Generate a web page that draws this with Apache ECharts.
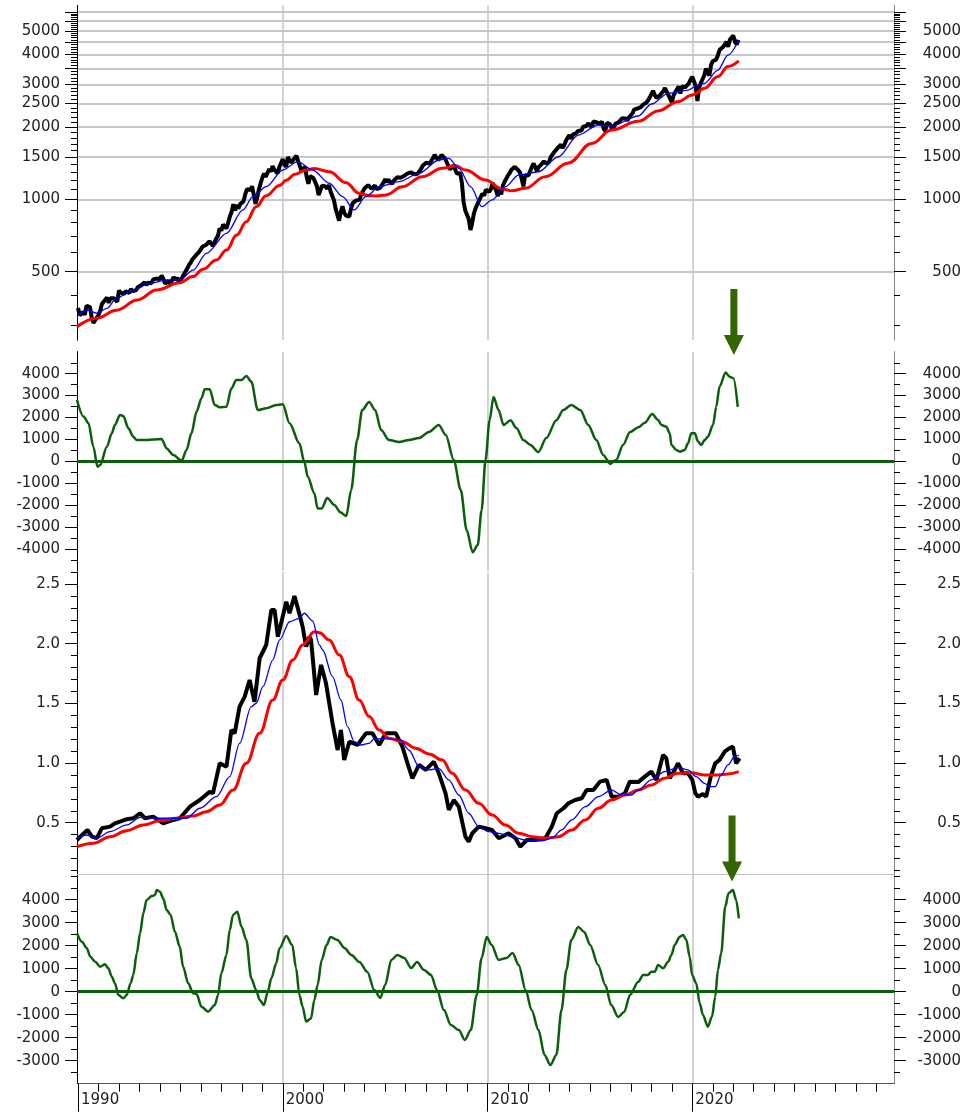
<!DOCTYPE html>
<html>
<head>
<meta charset="utf-8">
<script src="https://cdn.jsdelivr.net/npm/echarts@6.0.0/dist/echarts.min.js"></script>
<style>
html, body { margin: 0; padding: 0; background: #fff; }
#chart { width: 964px; height: 1112px; }
</style>
</head>
<body>
<div id="chart"></div>
<script>
// monthly closes, first value = Dec 1989, one value per month after that
var spxStart = 1990.0;
var spxClose = [353,
	329, 332, 340, 331, 361, 358, 356, 323, 306, 304, 322, 330,
	344, 367, 375, 375, 390, 371, 388, 395, 388, 392, 375, 417,
	409, 413, 404, 415, 415, 408, 424, 414, 418, 419, 431, 436,
	439, 443, 452, 440, 450, 451, 448, 464, 459, 468, 462, 466,
	482, 467, 446, 451, 457, 444, 458, 475, 463, 472, 454, 459,
	471, 487, 501, 515, 533, 545, 562, 562, 584, 582, 605, 616,
	636, 640, 646, 654, 669, 671, 640, 652, 687, 705, 757, 741,
	786, 791, 757, 801, 848, 885, 954, 899, 947, 915, 955, 970,
	980, 1049, 1102, 1112, 1091, 1134, 1121, 957, 1017, 1099, 1164, 1229,
	1280, 1238, 1286, 1335, 1302, 1373, 1329, 1320, 1283, 1363, 1389, 1469,
	1394, 1366, 1499, 1452, 1421, 1455, 1431, 1518, 1437, 1429, 1315, 1320,
	1366, 1240, 1160, 1249, 1256, 1224, 1211, 1134, 1041, 1060, 1139, 1148,
	1130, 1107, 1147, 1077, 1067, 990, 912, 916, 815, 886, 936, 880,
	856, 841, 848, 917, 964, 975, 990, 1008, 996, 1051, 1058, 1112,
	1131, 1145, 1126, 1107, 1121, 1141, 1102, 1104, 1115, 1130, 1174, 1212,
	1181, 1204, 1181, 1157, 1192, 1191, 1234, 1220, 1229, 1207, 1249, 1248,
	1280, 1281, 1295, 1311, 1270, 1270, 1277, 1304, 1336, 1378, 1401, 1418,
	1438, 1407, 1421, 1482, 1531, 1503, 1455, 1474, 1527, 1549, 1481, 1468,
	1379, 1331, 1323, 1386, 1400, 1280, 1267, 1283, 1166, 969, 896, 903,
	826, 745, 798, 873, 919, 919, 987, 1021, 1057, 1036, 1096, 1115,
	1074, 1104, 1169, 1187, 1089, 1031, 1102, 1049, 1141, 1183, 1181, 1258,
	1286, 1327, 1326, 1364, 1345, 1321, 1292, 1219, 1131, 1253, 1247, 1258,
	1312, 1366, 1408, 1398, 1310, 1362, 1379, 1407, 1441, 1412, 1416, 1426,
	1498, 1515, 1569, 1598, 1631, 1606, 1686, 1633, 1682, 1757, 1806, 1848,
	1783, 1859, 1872, 1884, 1924, 1960, 1931, 2003, 1972, 2018, 2068, 2059,
	1995, 2105, 2068, 2086, 2107, 2063, 2104, 1972, 1920, 2079, 2080, 2044,
	1940, 1932, 2060, 2065, 2097, 2099, 2174, 2171, 2168, 2126, 2199, 2239,
	2279, 2364, 2363, 2384, 2412, 2423, 2470, 2472, 2519, 2575, 2648, 2674,
	2824, 2714, 2641, 2648, 2705, 2718, 2816, 2902, 2914, 2712, 2760, 2530,
	2704, 2784, 2834, 2946, 2752, 2942, 2980, 2926, 2977, 3038, 3141, 3231,
	3226, 2954, 2560, 2912, 3044, 3100, 3271, 3500, 3363, 3270, 3622, 3756,
	3714, 3811, 3973, 4181, 4204, 4298, 4395, 4523, 4308, 4605, 4567, 4800,
	4516, 4400, 4600
];
var spxFast = [
	[1989.95, 326], [1990.43, 346], [1990.92, 336], [1991.41, 352], [1991.88, 388],
	[1992.7, 420], [1993.51, 447], [1994.33, 462], [1994.97, 462], [1995.62, 508],
	[1996.27, 596], [1997.25, 722], [1998.05, 903], [1998.54, 1025], [1999.19, 1128],
	[2000.0, 1324], [2000.73, 1433], [2001.46, 1324], [2002.27, 1166], [2002.92, 1025],
	[2003.49, 903], [2004.06, 1025], [2004.71, 1128], [2005.68, 1184], [2006.65, 1282],
	[2007.62, 1457], [2008.11, 1480], [2008.6, 1345], [2009.17, 1128], [2009.73, 932],
	[2010.22, 994], [2010.87, 1128], [2011.52, 1262], [2012.49, 1302], [2013.46, 1503],
	[2014.43, 1850], [2015.41, 2037], [2016.06, 2016], [2017.36, 2220], [2018.0, 2490],
	[2018.82, 2759], [2019.79, 2846], [2020.28, 2986], [2020.6, 3036], [2021.25, 3444],
	[2021.74, 3976], [2022.27, 4598]
];
var spxSlow = [
	[1989.95, 295], [1990.9, 320], [1991.88, 346], [1992.9, 381], [1993.84, 420],
	[1994.97, 450], [1995.6, 477], [1996.11, 512], [1996.76, 559], [1997.25, 615],
	[1997.75, 710], [1998.22, 807], [1998.7, 932], [1999.19, 1035], [1999.84, 1140],
	[2000.17, 1200], [2000.6, 1270], [2001.14, 1325], [2001.54, 1342], [2002.27, 1302],
	[2003.09, 1172], [2003.73, 1059], [2004.2, 1035], [2004.55, 1032], [2005.03, 1042],
	[2005.84, 1128], [2006.81, 1242], [2007.79, 1345], [2008.44, 1379], [2008.92, 1324],
	[2009.9, 1203], [2010.71, 1104], [2011.19, 1085], [2011.84, 1111], [2012.82, 1242],
	[2013.95, 1416], [2015.09, 1708], [2016.06, 1941], [2017.36, 2110], [2018.33, 2331],
	[2019.3, 2545], [2020.0, 2713], [2020.6, 2893], [2021.25, 3237], [2021.74, 3564],
	[2022.27, 3760]
];
var spxOsc = [
	[1989.95, 2800], [1990.27, 2040], [1990.51, 1740], [1990.75, 670], [1990.95, -250],
	[1991.08, -170], [1991.41, 670], [1991.65, 1280], [1991.8, 1660], [1992.05, 2110],
	[1992.21, 2070], [1992.46, 1510], [1992.7, 1120], [1992.87, 970], [1993.35, 970],
	[1993.67, 1000], [1994.08, 1020], [1994.33, 590], [1994.65, 290], [1995.06, 30],
	[1995.3, 520], [1995.54, 1280], [1995.79, 2270], [1996.03, 2880], [1996.19, 3290],
	[1996.43, 3290], [1996.68, 2570], [1996.92, 2470], [1997.25, 2490], [1997.49, 3330],
	[1997.73, 3710], [1997.98, 3710], [1998.22, 3900], [1998.46, 3640], [1998.78, 2340],
	[1999.19, 2420], [1999.68, 2570], [2000.0, 2600], [2000.33, 1740], [2000.81, 820],
	[2001.05, -20], [2001.22, -700], [2001.54, -1460], [2001.7, -2150], [2001.9, -2150],
	[2002.17, -1680], [2002.52, -2000], [2002.81, -2330], [2003.1, -2500], [2003.34, -1310],
	[2003.63, 970], [2003.88, 2340], [2004.22, 2710], [2004.51, 2340], [2004.8, 1430],
	[2005.19, 970], [2005.68, 880], [2006.16, 970], [2006.65, 1060], [2007.14, 1340],
	[2007.62, 1660], [2007.96, 1200], [2008.35, 60], [2008.69, -1310], [2008.98, -3140],
	[2009.27, -4150], [2009.52, -3820], [2009.71, -2230], [2009.9, 60], [2010.1, 1880],
	[2010.29, 2940], [2010.54, 2340], [2010.78, 1660], [2011.12, 1880], [2011.41, 1520],
	[2011.75, 970], [2012.09, 750], [2012.48, 420], [2012.87, 1060], [2013.36, 1880],
	[2013.7, 2340], [2014.09, 2570], [2014.53, 2340], [2014.92, 1660], [2015.31, 970],
	[2015.65, 290], [2015.99, -120], [2016.28, 60], [2016.62, 750], [2016.96, 1340],
	[2017.36, 1550], [2017.68, 1760], [2018.04, 2160], [2018.33, 1890], [2018.49, 1660],
	[2018.73, 1580], [2018.9, 1280], [2018.98, 740], [2019.22, 520], [2019.39, 440],
	[2019.63, 520], [2019.79, 820], [2019.95, 1280], [2020.12, 1280], [2020.28, 900],
	[2020.44, 740], [2020.6, 970], [2020.76, 1120], [2021.01, 1660], [2021.17, 2490],
	[2021.33, 3410], [2021.63, 4060], [2021.82, 3860], [2022.01, 3790], [2022.22, 2490]
];
var ratioClose = [
	[1989.95, 0.355], [1990.11, 0.383], [1990.46, 0.439], [1990.68, 0.383], [1990.92, 0.37],
	[1991.16, 0.453], [1991.56, 0.467], [1991.8, 0.495], [1992.05, 0.509], [1992.38, 0.529],
	[1992.7, 0.537], [1993.03, 0.579], [1993.27, 0.537], [1993.67, 0.551], [1994.16, 0.495],
	[1994.65, 0.523], [1994.97, 0.537], [1995.46, 0.634], [1995.95, 0.69], [1996.43, 0.76],
	[1996.59, 0.746], [1996.92, 0.998], [1997.25, 0.969], [1997.49, 1.277], [1997.65, 1.249],
	[1997.89, 1.472], [1998.14, 1.556], [1998.38, 1.696], [1998.62, 1.514], [1998.87, 1.878],
	[1999.19, 1.989], [1999.44, 2.282], [1999.6, 2.282], [1999.76, 2.059], [2000.17, 2.352],
	[2000.33, 2.255], [2000.57, 2.4], [2000.81, 2.25], [2000.97, 2.142], [2001.14, 1.975],
	[2001.3, 2.059], [2001.38, 2.031], [2001.63, 1.57], [2001.87, 1.822], [2002.11, 1.668],
	[2002.43, 1.333], [2002.68, 1.109], [2002.84, 1.277], [2003.0, 1.026], [2003.25, 1.179],
	[2003.65, 1.151], [2004.06, 1.249], [2004.38, 1.249], [2004.71, 1.151], [2005.03, 1.249],
	[2005.52, 1.249], [2005.84, 1.137], [2006.09, 0.998], [2006.33, 0.872], [2006.65, 0.984],
	[2006.98, 0.942], [2007.38, 1.011], [2007.62, 0.914], [2007.95, 0.746], [2008.11, 0.607],
	[2008.35, 0.69], [2008.6, 0.634], [2008.92, 0.383], [2009.08, 0.341], [2009.25, 0.411],
	[2009.57, 0.467], [2009.9, 0.453], [2010.22, 0.439], [2010.55, 0.37], [2011.03, 0.411],
	[2011.36, 0.37], [2011.6, 0.299], [2011.92, 0.355], [2012.33, 0.355], [2012.82, 0.37],
	[2013.14, 0.467], [2013.38, 0.579], [2013.71, 0.621], [2013.95, 0.663], [2014.28, 0.69],
	[2014.6, 0.705], [2014.84, 0.774], [2015.17, 0.774], [2015.49, 0.844], [2015.82, 0.858],
	[2016.06, 0.718], [2016.38, 0.718], [2016.71, 0.746], [2016.95, 0.844], [2017.36, 0.84],
	[2017.68, 0.886], [2018.0, 0.928], [2018.25, 0.858], [2018.57, 1.067], [2018.73, 1.04],
	[2018.9, 0.872], [2019.14, 0.942], [2019.3, 0.998], [2019.55, 0.914], [2019.79, 0.914],
	[2020.0, 0.858], [2020.15, 0.746], [2020.28, 0.718], [2020.52, 0.741], [2020.68, 0.718],
	[2020.9, 0.886], [2021.12, 0.998], [2021.33, 1.026], [2021.58, 1.095], [2021.82, 1.124],
	[2021.98, 1.137], [2022.14, 0.998], [2022.31, 1.04]
];
var ratioFast = [
	[1989.95, 0.37], [1990.43, 0.397], [1990.92, 0.37], [1991.56, 0.425], [1992.38, 0.481],
	[1993.03, 0.545], [1993.84, 0.537], [1994.65, 0.537], [1995.3, 0.537], [1995.95, 0.621],
	[1996.76, 0.718], [1997.41, 0.886], [1997.89, 1.165], [1998.46, 1.472], [1998.7, 1.501],
	[1999.03, 1.64], [1999.51, 1.863], [1999.84, 2.031], [2000.33, 2.184], [2000.81, 2.213],
	[2001.05, 2.255], [2001.46, 2.19], [2001.79, 1.989], [2001.95, 1.947], [2002.43, 1.724],
	[2002.84, 1.528], [2003.16, 1.305], [2003.49, 1.179], [2003.81, 1.151], [2004.22, 1.165],
	[2004.46, 1.202], [2005.19, 1.202], [2005.76, 1.193], [2006.16, 1.109], [2006.65, 0.969],
	[2007.14, 0.942], [2007.62, 0.956], [2008.11, 0.858], [2008.6, 0.732], [2009.08, 0.579],
	[2009.57, 0.467], [2010.06, 0.425], [2010.55, 0.411], [2011.19, 0.383], [2011.84, 0.355],
	[2012.65, 0.347], [2013.14, 0.37], [2013.62, 0.439], [2014.11, 0.523], [2014.77, 0.634],
	[2015.41, 0.718], [2016.06, 0.774], [2016.54, 0.732], [2017.03, 0.732], [2017.36, 0.774],
	[2018.0, 0.858], [2018.65, 0.928], [2019.3, 0.964], [2019.79, 0.942], [2020.19, 0.886],
	[2020.6, 0.83], [2020.85, 0.802], [2021.12, 0.802], [2021.41, 0.9], [2021.74, 0.984],
	[2022.06, 1.053], [2022.27, 1.067]
];
var ratioSlow = [
	[1989.95, 0.299], [1990.75, 0.328], [1991.56, 0.383], [1992.38, 0.433], [1993.19, 0.481],
	[1994.0, 0.517], [1994.81, 0.537], [1995.62, 0.556], [1996.27, 0.592], [1996.92, 0.648],
	[1997.57, 0.774], [1998.22, 0.998], [1998.87, 1.249], [1999.51, 1.528], [2000.0, 1.696],
	[2000.49, 1.863], [2000.97, 1.989], [2001.54, 2.1], [2001.79, 2.092], [2002.27, 2.031],
	[2002.76, 1.905], [2003.25, 1.724], [2003.73, 1.528], [2004.22, 1.389], [2004.71, 1.277],
	[2005.19, 1.207], [2005.84, 1.179], [2006.49, 1.124], [2007.14, 1.076], [2007.79, 1.026],
	[2008.27, 0.914], [2008.92, 0.774], [2009.57, 0.663], [2010.22, 0.565], [2010.87, 0.481],
	[2011.52, 0.411], [2012.17, 0.383], [2012.82, 0.37], [2013.46, 0.383], [2014.11, 0.439],
	[2014.77, 0.523], [2015.41, 0.621], [2016.06, 0.69], [2016.71, 0.732], [2017.36, 0.774],
	[2018.0, 0.816], [2018.65, 0.872], [2019.3, 0.914], [2019.95, 0.919], [2020.6, 0.9],
	[2021.25, 0.9], [2021.74, 0.908], [2022.27, 0.928]
];
var ratioOsc = [
	[1989.95, 2540], [1990.19, 2170], [1990.43, 1890], [1990.6, 1520], [1990.84, 1300],
	[1991.08, 1090], [1991.32, 1190], [1991.48, 1020], [1991.65, 650], [1991.8, 370],
	[1991.97, -140], [1992.21, -290], [1992.38, -140], [1992.57, 370], [1992.7, 730],
	[1992.87, 1670], [1993.03, 2540], [1993.19, 3410], [1993.35, 3990], [1993.6, 4160],
	[1993.76, 4200], [1993.84, 4420], [1994.0, 4350], [1994.16, 4060], [1994.33, 3550],
	[1994.52, 3340], [1994.73, 2610], [1994.97, 1960], [1995.13, 1090], [1995.38, 370],
	[1995.62, -70], [1995.79, -100], [1996.03, -650], [1996.35, -870], [1996.68, -580],
	[1996.84, -140], [1997.0, 800], [1997.25, 1600], [1997.41, 2680], [1997.57, 3340],
	[1997.78, 3480], [1997.98, 2830], [1998.22, 2250], [1998.46, 580], [1998.7, 70],
	[1998.87, -360], [1999.08, -580], [1999.27, 0], [1999.44, 580], [1999.68, 1240],
	[1999.84, 1890], [2000.17, 2420], [2000.46, 2030], [2000.65, 1020], [2000.81, -140],
	[2000.97, -650], [2001.14, -1300], [2001.38, -1160], [2001.54, -360], [2001.7, 290],
	[2001.9, 1380], [2002.14, 2030], [2002.33, 2380], [2002.67, 2250], [2003.01, 1900],
	[2003.35, 1600], [2003.74, 1290], [2004.13, 860], [2004.47, 70], [2004.76, -270],
	[2005.0, 290], [2005.3, 1380], [2005.59, 1600], [2005.93, 1470], [2006.27, 1030],
	[2006.56, 1290], [2006.9, 940], [2007.24, 730], [2007.53, 70], [2007.87, -800],
	[2008.21, -1450], [2008.6, -1670], [2008.89, -2100], [2009.18, -1670], [2009.47, -140],
	[2009.71, 1470], [2009.96, 2380], [2010.2, 2030], [2010.54, 1380], [2010.93, 1470],
	[2011.22, 1680], [2011.52, 1160], [2011.86, 70], [2012.15, -800], [2012.49, -1670],
	[2012.78, -2750], [2013.07, -3190], [2013.36, -2750], [2013.61, -800], [2013.85, 940],
	[2014.09, 2250], [2014.43, 2810], [2014.72, 2600], [2015.01, 2030], [2015.4, 1160],
	[2015.75, 290], [2016.04, -580], [2016.38, -1100], [2016.67, -880], [2016.96, -140],
	[2017.36, 430], [2017.6, 730], [2017.84, 730], [2018.0, 870], [2018.17, 870],
	[2018.33, 1160], [2018.57, 1020], [2018.82, 1300], [2018.98, 1600], [2019.14, 2030],
	[2019.39, 2390], [2019.55, 2470], [2019.71, 2250], [2019.87, 1520], [2019.99, 730],
	[2020.19, 370], [2020.36, -500], [2020.52, -1010], [2020.76, -1520], [2020.96, -1090],
	[2021.12, -220], [2021.25, 940], [2021.41, 1670], [2021.61, 3700], [2021.77, 4280],
	[2021.98, 4420], [2022.14, 3990], [2022.27, 3190]
];
// signal arrows
var arrowTop = [2022.03, 309];
var arrowBottom = [2021.94, 0.284];

// tick labels
var priceLabels = [500, 1000, 1500, 2000, 2500, 3000, 4000, 5000];
var priceGrid = [500, 1000, 1500, 2000, 2500, 3000, 3500, 4000, 4500, 5000, 5500, 6000];
var osc1Labels = [-4000, -3000, -2000, -1000, 0, 1000, 2000, 3000, 4000];
var ratioLabels = [0.5, 1.0, 1.5, 2.0, 2.5];
var osc2Labels = [-3000, -2000, -1000, 0, 1000, 2000, 3000, 4000];
var yearLabels = [1990, 2000, 2010, 2020];

var GREEN = '#0b5e0b';
var ARROW = '#336600';
var FONT = 'DejaVu Sans';

function minorList(from, to, step, skip) {
	var out = [];
	for (var v = from; v <= to + 1e-9; v += step) {
		var r = Math.round(v * 100) / 100;
		if (skip.indexOf(r) < 0) out.push(r);
	}
	return out;
}

var yAxes = [];
// major + minor axes on both sides of one grid, returns index of the left major axis
function addY(grid, type, min, max, major, minor, labels, fmt, gridLines) {
	var first = yAxes.length;
	['left', 'right'].forEach(function (side) {
		var base = {gridIndex: grid, type: type, min: min, max: max, position: side};
		if (type === 'log') base.logBase = 10;
		var line = {show: true, onZero: false, lineStyle: {color: side === 'left' ? '#000' : '#888', width: 1}};
		yAxes.push(Object.assign({}, base, {
			axisLine: line,
			axisTick: {show: true, length: 12, customValues: major, lineStyle: {color: '#000', width: 1}},
			axisLabel: {
				show: true, customValues: labels, formatter: fmt,
				margin: side === 'left' ? 17 : 67, align: 'right',
				fontFamily: FONT, fontSize: 15, color: '#222'
			},
			splitLine: {show: side === 'left' && gridLines, lineStyle: {color: '#c8c8c8', width: 2}}
		}));
		yAxes.push(Object.assign({}, base, {
			axisLine: line,
			axisTick: {show: true, length: 6, customValues: minor, lineStyle: {color: '#000', width: 1}},
			axisLabel: {show: false},
			splitLine: {show: false}
		}));
	});
	return first;
}

var intFmt = function (v) { return String(Math.round(v)); };
var decFmt = function (v) { return v.toFixed(1); };

var yPrice = addY(0, 'log', 260, 6400, priceGrid,
	minorList(300, 6000, 100, priceGrid), priceLabels, intFmt, true);
var yOsc1 = addY(1, 'value', -5000, 5000, osc1Labels,
	minorList(-4500, 4500, 500, osc1Labels), osc1Labels, intFmt, false);
var yRatio = addY(2, 'value', 0.07, 2.6, ratioLabels,
	minorList(0.1, 2.6, 0.1, ratioLabels), ratioLabels, decFmt, false);
var yOsc2 = addY(3, 'value', -4000, 5100, osc2Labels,
	minorList(-3500, 5000, 500, osc2Labels), osc2Labels, intFmt, false);

var decades = [2000, 2010, 2020];
var yearTicks = minorList(1991, 2029, 1, yearLabels);
var xBase = {type: 'value', min: 1989.95, max: 2029.85, position: 'bottom'};
function gridX(i, lineColor) {
	return Object.assign({}, xBase, {
		gridIndex: i,
		axisLine: {show: !!lineColor, onZero: false, lineStyle: {color: lineColor || '#000', width: 1}},
		axisTick: {show: false, customValues: decades},
		axisLabel: {show: false},
		splitLine: {show: true, lineStyle: {color: '#c4c4c4', width: 1.5}}
	});
}
var xAxes = [gridX(0), gridX(1), gridX(2, '#c4c4c4'), gridX(3),
	Object.assign({}, xBase, {
		gridIndex: 3,
		axisLine: {show: true, onZero: false, lineStyle: {color: '#555', width: 1}},
		axisTick: {show: true, length: 8, customValues: yearTicks, lineStyle: {color: '#000'}},
		axisLabel: {show: false},
		splitLine: {show: false}
	}),
	Object.assign({}, xBase, {
		gridIndex: 3,
		axisLine: {show: false, onZero: false},
		axisTick: {show: true, length: 28, customValues: yearLabels, lineStyle: {color: '#000'}},
		axisLabel: {
			show: true, customValues: yearLabels, formatter: intFmt, align: 'left',
			margin: 9, padding: [0, 0, 0, 3], fontFamily: FONT, fontSize: 15, color: '#222'
		},
		splitLine: {show: false}
	})
];

function line(name, xi, yi, data, color, width, z, smooth) {
	return {
		name: name, type: 'line', xAxisIndex: xi, yAxisIndex: yi, data: data,
		showSymbol: false, symbol: 'none', z: z, silent: true,
		smooth: smooth || false, smoothMonotone: 'x',
		lineStyle: {color: color, width: width}
	};
}
function zeroLine() {
	return {
		silent: true, symbol: 'none', label: {show: false},
		lineStyle: {color: GREEN, width: 3, type: 'solid'},
		data: [{yAxis: 0}]
	};
}
function arrow(xi, yi, pt) {
	return {
		type: 'scatter', xAxisIndex: xi, yAxisIndex: yi, data: [pt], silent: true, z: 10,
		symbol: 'path://M6.5,0L13.5,0L13.5,46L20,46L10,66L0,46L6.5,46Z',
		symbolSize: [20, 66], itemStyle: {color: ARROW, opacity: 1}
	};
}

var closeData = spxClose.map(function (v, i) { return [spxStart + i / 12, v]; });

var osc1 = line('osc1', 1, yOsc1, spxOsc, GREEN, 2.5, 3, 0.3);
osc1.markLine = zeroLine();
var osc2 = line('osc2', 3, yOsc2, ratioOsc, GREEN, 2.5, 3, 0.3);
osc2.markLine = zeroLine();

var chart = echarts.init(document.getElementById('chart'));
chart.setOption({
	animation: false,
	backgroundColor: '#fff',
	grid: [
		{left: 77, right: 68, top: 5.4, height: 334.6},
		{left: 77, right: 68, top: 351.8, height: 219},
		{left: 77, right: 68, top: 572.1, height: 301.9},
		{left: 77, right: 68, top: 874.4, height: 209.3}
	],
	xAxis: xAxes,
	yAxis: yAxes,
	series: [
		line('close', 0, yPrice, closeData, '#000', 4, 3),
		line('slow', 0, yPrice, spxSlow, '#ff0000', 3, 4, 0.4),
		line('fast', 0, yPrice, spxFast, '#0000ff', 1.3, 5, 0.3),
		osc1,
		line('ratio', 2, yRatio, ratioClose, '#000', 4, 3),
		line('ratioSlow', 2, yRatio, ratioSlow, '#ff0000', 3, 4, 0.4),
		line('ratioFast', 2, yRatio, ratioFast, '#0000ff', 1.3, 5, 0.3),
		osc2,
		arrow(0, yPrice, arrowTop),
		arrow(2, yRatio, arrowBottom)
	]
});
</script>
</body>
</html>
